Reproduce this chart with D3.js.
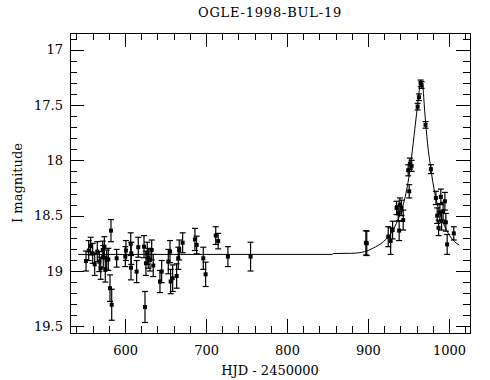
<!DOCTYPE html>
<html><head><meta charset="utf-8">
<script src="https://cdn.jsdelivr.net/npm/d3@7"></script>
<style>body{margin:0;background:#fff}svg{display:block}text{font-family:"DejaVu Serif",serif;fill:#000}</style>
</head><body>
<svg id="c" width="490" height="380"></svg>
<script>
const title = "OGLE-1998-BUL-19";
const xLabel = "HJD - 2450000";
const yLabel = "I magnitude";
const xTicks = [600, 700, 800, 900, 1000];
const yTicks = [17, 17.5, 18, 18.5, 19, 19.5];

const hjd = [551.8,555.1,557.5,560.0,562.5,565.7,568.2,569.9,572.4,573.1,574.4,575.6,577.3,579.3,581.4,583.5,582.6,589.6,
  600.3,601.1,607.0,607.7,607.3,614.3,616.3,623.4,624.6,625.8,627.4,628.7,630.8,632.9,634.8,643.1,645.2,653.4,655.5,656.3,
  658.8,663.7,665.7,666.9,671.1,686.3,688.4,696.6,699.5,712.0,715.0,727.0,755.0,
  897.4,898.5,925.0,928.0,930.4,935.3,937.3,938.5,939.4,941.5,943.5,949.7,950.9,951.8,953.9,961.3,962.9,965.0,966.2,
  971.1,977.7,983.9,985.5,987.2,988.8,990.0,990.9,992.8,995.0,996.2,997.8,1006.0];
const mag = [18.91,18.815,18.775,18.84,18.94,18.825,18.915,18.975,18.81,18.87,18.78,18.99,18.90,18.895,19.155,19.305,18.635,18.885,
  18.87,18.815,18.755,18.84,18.97,19.005,18.785,18.78,19.325,18.93,18.84,18.885,18.90,18.81,18.95,19.095,19.005,18.915,18.825,19.095,
  19.065,19.045,18.885,18.81,18.745,18.715,18.765,18.885,19.03,18.68,18.73,18.87,18.87,
  18.745,18.75,18.69,18.73,18.63,18.43,18.48,18.635,18.40,18.43,18.54,18.09,18.28,18.03,18.05,17.515,17.43,17.305,17.32,
  17.68,18.08,18.34,18.50,18.61,18.47,18.33,18.55,18.46,18.37,18.56,18.76,18.66];
const err = [0.09,0.09,0.08,0.09,0.10,0.09,0.09,0.10,0.08,0.10,0.09,0.11,0.09,0.10,0.12,0.14,0.10,0.08,
  0.09,0.09,0.10,0.10,0.11,0.10,0.09,0.10,0.14,0.11,0.10,0.09,0.10,0.09,0.10,0.10,0.10,0.11,0.10,0.11,
  0.12,0.11,0.10,0.09,0.09,0.10,0.08,0.10,0.11,0.08,0.07,0.09,0.13,
  0.11,0.11,0.09,0.12,0.08,0.06,0.07,0.09,0.06,0.07,0.09,0.05,0.06,0.05,0.05,0.03,0.03,0.03,0.03,
  0.03,0.04,0.06,0.07,0.07,0.08,0.07,0.08,0.08,0.08,0.08,0.09,0.06];

const modelHJD = [542,600,700,800,856,857,880,896,906,919,927,935,941.5,947.7,951.8,955.8,960,963,965.3,967.5,970.3,973.6,977.3,982.6,988.8,997,1005,1012.6];
const modelMag = [18.85,18.85,18.85,18.85,18.85,18.842,18.84,18.825,18.795,18.735,18.675,18.57,18.45,18.27,18.09,17.85,17.58,17.39,17.275,17.32,17.58,17.85,18.06,18.30,18.48,18.63,18.72,18.765];

const L=70,R=470,T=33,B=333;
const svg = d3.select("#c");
const x = d3.scaleLinear().domain([532,1026]).range([L,R]);
const y = d3.scaleLinear().domain([16.85,19.56]).range([T,B]);

const xMinor = d3.range(540,1026,20);
const yMinor = d3.range(16.9,19.56,0.1).map(v=>+v.toFixed(2));

const maj=14, mnr=7;
function tickSet(g, vals, len, orient, scale){
  g.selectAll(null).data(vals).join("line")
    .attr("stroke","#000").attr("stroke-width",1)
    .each(function(d){
      const s=d3.select(this);
      if(orient==="bottom"){const p=Math.round(scale(d))+0.5;s.attr("x1",p).attr("x2",p).attr("y1",B).attr("y2",B-len);}
      if(orient==="top"){const p=Math.round(scale(d))+0.5;s.attr("x1",p).attr("x2",p).attr("y1",T).attr("y2",T+len);}
      if(orient==="left"){const p=Math.round(scale(d))+0.5;s.attr("y1",p).attr("y2",p).attr("x1",L).attr("x2",L+len);}
      if(orient==="right"){const p=Math.round(scale(d))+0.5;s.attr("y1",p).attr("y2",p).attr("x1",R).attr("x2",R-len);}
    });
}
const tg = svg.append("g");
["bottom","top"].forEach(o=>{tickSet(tg,xMinor,mnr,o,x);tickSet(tg,xTicks,maj,o,x);});
["left","right"].forEach(o=>{tickSet(tg,yMinor,mnr,o,y);tickSet(tg,yTicks,maj,o,y);});

svg.append("rect").attr("x",L+0.5).attr("y",T+0.5).attr("width",R-L).attr("height",B-T)
  .attr("fill","none").attr("stroke","#000").attr("stroke-width",1);

// tick labels via d3 axis (text only)
const xa = svg.append("g").attr("transform",`translate(0,${B})`)
  .call(d3.axisBottom(x).tickValues(xTicks).tickSize(0).tickPadding(0).tickFormat(d3.format("d")));
xa.select(".domain").remove();
xa.selectAll("text").attr("y",22).attr("dy",0).style("font-size","13px").style("font-family","DejaVu Serif, serif");
const ya = svg.append("g").attr("transform",`translate(${L},0)`)
  .call(d3.axisLeft(y).tickValues(yTicks).tickSize(0).tickPadding(7).tickFormat(d=>String(d)));
ya.select(".domain").remove();
ya.selectAll("text").style("font-size","13px").style("font-family","DejaVu Serif, serif");

svg.append("text").attr("x",(L+R)/2).attr("y",17).attr("text-anchor","middle")
  .style("font-size","13px").style("letter-spacing","0.8px").text(title);
svg.append("text").attr("x",(L+R)/2).attr("y",375).attr("text-anchor","middle")
  .style("font-size","13px").text(xLabel);
svg.append("text").attr("transform",`translate(22,${(T+B)/2}) rotate(-90)`).attr("text-anchor","middle")
  .style("font-size","13px").text(yLabel);

// model curve
const model = modelHJD.map((d,i)=>[d,modelMag[i]]);
svg.append("path").datum(model)
  .attr("d", d3.line().x(d=>x(d[0])).y(d=>y(d[1])).curve(d3.curveMonotoneX))
  .attr("fill","none").attr("stroke","#000").attr("stroke-width",1);

// data with error bars
const pts = hjd.map((d,i)=>({t:d,m:mag[i],e:err[i]}));
const eg = svg.append("g").attr("stroke","#000").attr("stroke-width",1.2);
pts.forEach(p=>{
  const px=x(p.t), y1=y(p.m-p.e), y2=y(p.m+p.e);
  eg.append("line").attr("x1",px).attr("x2",px).attr("y1",y1).attr("y2",y2);
  eg.append("line").attr("x1",px-3).attr("x2",px+3).attr("y1",y1).attr("y2",y1);
  eg.append("line").attr("x1",px-3).attr("x2",px+3).attr("y1",y2).attr("y2",y2);
});
svg.append("g").selectAll("rect").data(pts).join("rect")
  .attr("x",d=>x(d.t)-2).attr("y",d=>y(d.m)-2).attr("width",4).attr("height",4).attr("fill","#000");
</script>
</body></html>
